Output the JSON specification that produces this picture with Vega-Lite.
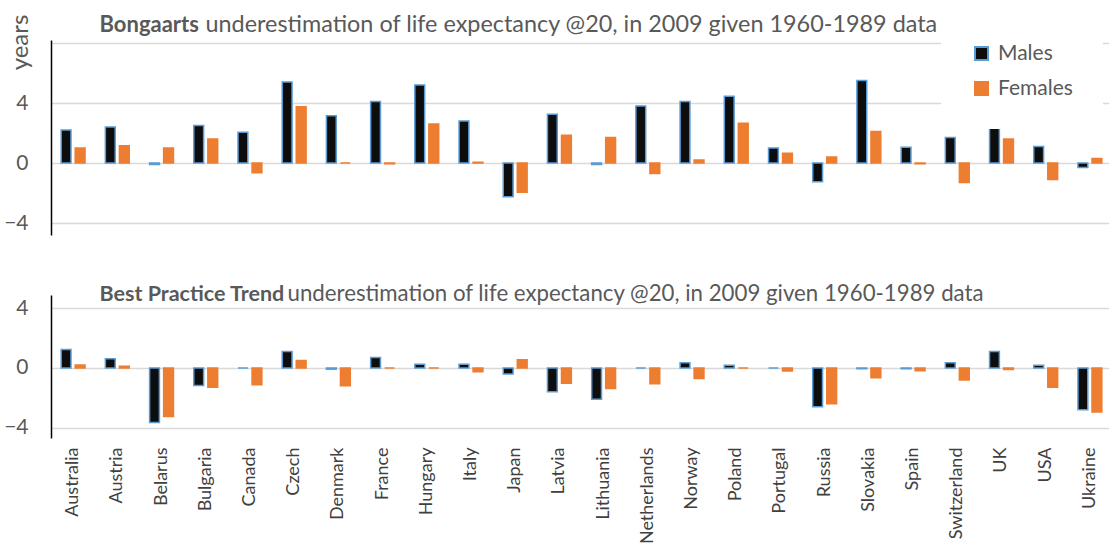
{
  "$schema": "https://vega.github.io/schema/vega-lite/v6.json",
  "background": "white",
  "padding": {"left": 3, "top": 12, "right": 0, "bottom": 0},
  "config": {
    "font": "Lato",
    "view": {"stroke": null},
    "axis": {"labelFont": "Lato", "titleFont": "Lato", "labelColor": "#595959", "titleColor": "#595959"},
    "legend": {"labelFont": "Lato"}
  },
  "datasets": {
    "top": [
      {"country": "Australia", "sex": "Males", "v": 2.2}, {"country": "Australia", "sex": "Females", "v": 1.0},
      {"country": "Austria", "sex": "Males", "v": 2.4}, {"country": "Austria", "sex": "Females", "v": 1.15},
      {"country": "Belarus", "sex": "Males", "v": -0.1}, {"country": "Belarus", "sex": "Females", "v": 1.0},
      {"country": "Bulgaria", "sex": "Males", "v": 2.5}, {"country": "Bulgaria", "sex": "Females", "v": 1.6},
      {"country": "Canada", "sex": "Males", "v": 2.05}, {"country": "Canada", "sex": "Females", "v": -0.65},
      {"country": "Czech", "sex": "Males", "v": 5.4}, {"country": "Czech", "sex": "Females", "v": 3.75},
      {"country": "Denmark", "sex": "Males", "v": 3.15}, {"country": "Denmark", "sex": "Females", "v": 0},
      {"country": "France", "sex": "Males", "v": 4.1}, {"country": "France", "sex": "Females", "v": -0.05},
      {"country": "Hungary", "sex": "Males", "v": 5.2}, {"country": "Hungary", "sex": "Females", "v": 2.6},
      {"country": "Italy", "sex": "Males", "v": 2.8}, {"country": "Italy", "sex": "Females", "v": 0.05},
      {"country": "Japan", "sex": "Males", "v": -2.25}, {"country": "Japan", "sex": "Females", "v": -1.95},
      {"country": "Latvia", "sex": "Males", "v": 3.25}, {"country": "Latvia", "sex": "Females", "v": 1.85},
      {"country": "Lithuania", "sex": "Males", "v": -0.1}, {"country": "Lithuania", "sex": "Females", "v": 1.7},
      {"country": "Netherlands", "sex": "Males", "v": 3.8}, {"country": "Netherlands", "sex": "Females", "v": -0.7},
      {"country": "Norway", "sex": "Males", "v": 4.1}, {"country": "Norway", "sex": "Females", "v": 0.2},
      {"country": "Poland", "sex": "Males", "v": 4.45}, {"country": "Poland", "sex": "Females", "v": 2.65},
      {"country": "Portugal", "sex": "Males", "v": 1.0}, {"country": "Portugal", "sex": "Females", "v": 0.65},
      {"country": "Russia", "sex": "Males", "v": -1.25}, {"country": "Russia", "sex": "Females", "v": 0.4},
      {"country": "Slovakia", "sex": "Males", "v": 5.5}, {"country": "Slovakia", "sex": "Females", "v": 2.1},
      {"country": "Spain", "sex": "Males", "v": 1.05}, {"country": "Spain", "sex": "Females", "v": -0.05},
      {"country": "Switzerland", "sex": "Males", "v": 1.7}, {"country": "Switzerland", "sex": "Females", "v": -1.3},
      {"country": "UK", "sex": "Males", "v": 2.75}, {"country": "UK", "sex": "Females", "v": 1.6},
      {"country": "USA", "sex": "Males", "v": 1.1}, {"country": "USA", "sex": "Females", "v": -1.1},
      {"country": "Ukraine", "sex": "Males", "v": -0.3}, {"country": "Ukraine", "sex": "Females", "v": 0.3}
    ],
    "bottom": [
      {"country": "Australia", "sex": "Males", "v": 1.24}, {"country": "Australia", "sex": "Females", "v": 0.2},
      {"country": "Austria", "sex": "Males", "v": 0.62}, {"country": "Austria", "sex": "Females", "v": 0.12},
      {"country": "Belarus", "sex": "Males", "v": -3.66}, {"country": "Belarus", "sex": "Females", "v": -3.25},
      {"country": "Bulgaria", "sex": "Males", "v": -1.17}, {"country": "Bulgaria", "sex": "Females", "v": -1.3},
      {"country": "Canada", "sex": "Males", "v": 0}, {"country": "Canada", "sex": "Females", "v": -1.12},
      {"country": "Czech", "sex": "Males", "v": 1.1}, {"country": "Czech", "sex": "Females", "v": 0.5},
      {"country": "Denmark", "sex": "Males", "v": -0.08}, {"country": "Denmark", "sex": "Females", "v": -1.2},
      {"country": "France", "sex": "Males", "v": 0.7}, {"country": "France", "sex": "Females", "v": 0},
      {"country": "Hungary", "sex": "Males", "v": 0.25}, {"country": "Hungary", "sex": "Females", "v": 0},
      {"country": "Italy", "sex": "Males", "v": 0.25}, {"country": "Italy", "sex": "Females", "v": -0.25},
      {"country": "Japan", "sex": "Males", "v": -0.4}, {"country": "Japan", "sex": "Females", "v": 0.55},
      {"country": "Latvia", "sex": "Males", "v": -1.6}, {"country": "Latvia", "sex": "Females", "v": -1.03},
      {"country": "Lithuania", "sex": "Males", "v": -2.1}, {"country": "Lithuania", "sex": "Females", "v": -1.37},
      {"country": "Netherlands", "sex": "Males", "v": 0}, {"country": "Netherlands", "sex": "Females", "v": -1.05},
      {"country": "Norway", "sex": "Males", "v": 0.35}, {"country": "Norway", "sex": "Females", "v": -0.7},
      {"country": "Poland", "sex": "Males", "v": 0.18}, {"country": "Poland", "sex": "Females", "v": 0},
      {"country": "Portugal", "sex": "Males", "v": 0}, {"country": "Portugal", "sex": "Females", "v": -0.2},
      {"country": "Russia", "sex": "Males", "v": -2.6}, {"country": "Russia", "sex": "Females", "v": -2.4},
      {"country": "Slovakia", "sex": "Males", "v": -0.05}, {"country": "Slovakia", "sex": "Females", "v": -0.65},
      {"country": "Spain", "sex": "Males", "v": -0.05}, {"country": "Spain", "sex": "Females", "v": -0.18},
      {"country": "Switzerland", "sex": "Males", "v": 0.35}, {"country": "Switzerland", "sex": "Females", "v": -0.8},
      {"country": "UK", "sex": "Males", "v": 1.1}, {"country": "UK", "sex": "Females", "v": -0.1},
      {"country": "USA", "sex": "Males", "v": 0.18}, {"country": "USA", "sex": "Females", "v": -1.3},
      {"country": "Ukraine", "sex": "Males", "v": -2.8}, {"country": "Ukraine", "sex": "Females", "v": -2.95}
    ]
  },
  "spacing": 47,
  "resolve": {"scale": {"fill": "independent", "stroke": "independent"}},
  "vconcat": [
    {
      "width": 1061,
      "height": 195,
      "data": {"name": "top"},
      "resolve": {"axis": {"x": "independent", "y": "independent"}},
      "layer": [
        {
          "mark": {"type": "bar", "strokeWidth": 1.5},
          "encoding": {
            "x": {"field": "country", "type": "nominal", "sort": null, "scale": {"paddingInner": 0.46, "paddingOuter": 0.23}, "axis": null},
            "xOffset": {"field": "sex", "type": "nominal", "sort": ["Males", "Females"], "scale": {"paddingInner": 0.3}},
            "y": {
              "field": "v", "type": "quantitative",
              "scale": {"domain": [-4.8, 8.2], "nice": false},
              "axis": {
                "values": [-4, 0, 4, 8], "labelExpr": "datum.value == 8 ? '' : datum.label",
                "grid": true, "gridColor": "#d9d9d9", "gridWidth": 1.5, "ticks": false,
                "domainColor": "#000000", "domainWidth": 1.5,
                "labelFontSize": 21, "labelPadding": 23,
                "title": "years", "titleFontSize": 24, "titleFontWeight": "normal", "titleAngle": 270,
                "titleX": -31, "titleY": 2, "titleAlign": "center", "titleBaseline": "middle"
              }
            },
            "fill": {
              "field": "sex", "type": "nominal", "sort": ["Males", "Females"],
              "scale": {"domain": ["Males", "Females"], "range": ["#0d0d0d", "#ed7d31"]},
              "legend": {"title": null, "orient": "none", "legendX": 890, "legendY": -27, "fillColor": "white", "padding": 30, "labelFontSize": 21, "labelColor": "#595959", "symbolType": "square", "symbolSize": 169, "symbolStrokeWidth": 2, "rowPadding": 13, "labelOffset": 6}
            },
            "stroke": {
              "field": "sex", "type": "nominal", "sort": ["Males", "Females"],
              "scale": {"domain": ["Males", "Females"], "range": ["#5b9bd5", "#ed7d31"]},
              "legend": {"title": null, "orient": "none", "legendX": 890, "legendY": -27, "fillColor": "white", "padding": 30, "labelFontSize": 21, "labelColor": "#595959", "symbolType": "square", "symbolSize": 169, "symbolStrokeWidth": 2, "rowPadding": 13, "labelOffset": 6}
            }
          }
        },
        {
          "mark": {"type": "bar", "opacity": 0},
          "encoding": {
            "x": {
              "field": "country", "type": "nominal", "sort": null,
              "axis": {"orient": "top", "labels": false, "ticks": false, "domain": false, "grid": false,
                "title": "underestimation of life expectancy @20, in 2009 given 1960-1989 data",
                "titleX": 154, "titleY": -9, "titleAlign": "left", "titleBaseline": "alphabetic", "titleAngle": 0,
                "titleFontSize": 23.4, "titleFontWeight": "normal"}
            },
            "y": {
              "field": "v", "type": "quantitative",
              "axis": {"orient": "right", "labels": false, "ticks": false, "domain": false, "grid": false,
                "title": "Bongaarts", "titleX": -1013, "titleY": -9, "titleAlign": "left", "titleBaseline": "alphabetic", "titleAngle": 0,
                "titleFontSize": 22, "titleFontWeight": "bold"}
            }
          }
        }
      ]
    },
    {
      "width": 1061,
      "height": 143,
      "data": {"name": "bottom"},
      "resolve": {"axis": {"x": "independent", "y": "independent"}},
      "layer": [
        {
          "mark": {"type": "bar", "strokeWidth": 1.5},
          "encoding": {
            "x": {
              "field": "country", "type": "nominal", "sort": null,
              "scale": {"paddingInner": 0.46, "paddingOuter": 0.23},
              "axis": {"title": null, "labelAngle": -90, "labelFontSize": 18, "labelColor": "#404040", "labelPadding": 9, "ticks": false, "domain": false, "grid": false}
            },
            "xOffset": {"field": "sex", "type": "nominal", "sort": ["Males", "Females"], "scale": {"paddingInner": 0.3}},
            "y": {
              "field": "v", "type": "quantitative",
              "scale": {"domain": [-4.7, 4.9], "nice": false},
              "axis": {
                "values": [-4, 0, 4], "title": null,
                "grid": true, "gridColor": "#d9d9d9", "gridWidth": 1.5, "ticks": false,
                "domainColor": "#000000", "domainWidth": 1.5,
                "labelFontSize": 21, "labelPadding": 23
              }
            },
            "fill": {
              "field": "sex", "type": "nominal", "sort": ["Males", "Females"],
              "scale": {"domain": ["Males", "Females"], "range": ["#0d0d0d", "#ed7d31"]},
              "legend": null
            },
            "stroke": {
              "field": "sex", "type": "nominal", "sort": ["Males", "Females"],
              "scale": {"domain": ["Males", "Females"], "range": ["#5b9bd5", "#ed7d31"]},
              "legend": null
            }
          }
        },
        {
          "mark": {"type": "bar", "opacity": 0},
          "encoding": {
            "x": {
              "field": "country", "type": "nominal", "sort": null,
              "axis": {"orient": "top", "labels": false, "ticks": false, "domain": false, "grid": false,
                "title": "underestimation of life expectancy @20, in 2009 given 1960-1989 data",
                "titleX": 236, "titleY": 5, "titleAlign": "left", "titleBaseline": "alphabetic", "titleAngle": 0,
                "titleFontSize": 22.25, "titleFontWeight": "normal"}
            },
            "y": {
              "field": "v", "type": "quantitative",
              "axis": {"orient": "right", "labels": false, "ticks": false, "domain": false, "grid": false,
                "title": "Best Practice Trend", "titleX": -1013, "titleY": 5, "titleAlign": "left", "titleBaseline": "alphabetic", "titleAngle": 0,
                "titleFontSize": 21.5, "titleFontWeight": "bold"}
            }
          }
        }
      ]
    }
  ]
}
